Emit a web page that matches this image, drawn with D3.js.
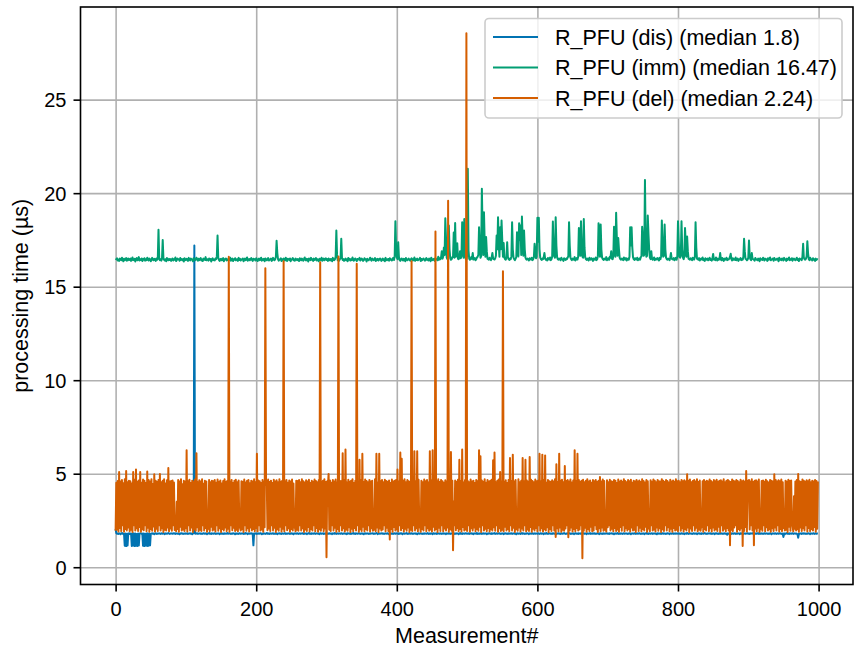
<!DOCTYPE html>
<html>
<head>
<meta charset="utf-8">
<script src="https://cdn.jsdelivr.net/npm/d3@7"></script>
<style>
  body { margin: 0; background: #fff; }
  svg { display: block; }
  text { font-family: "Liberation Sans", Arial, Helvetica, sans-serif; fill: #000; }
</style>
</head>
<body>
<svg id="chart" width="854" height="652"></svg>
<script>
// Series labels and colours (colour-blind palette)
const seriesNames = ["R_PFU (dis)", "R_PFU (imm)", "R_PFU (del)"];
const seriesColors = ["#0173B2", "#029E73", "#D55E00"];
const xTicks = [0, 200, 400, 600, 800, 1000];
const yTicks = [0, 5, 10, 15, 20, 25];
const xLabel = "Measurement#";
const yLabel = "processing time (µs)";

// Processing time per measurement, dis variant (µs)
const disTimes = [
  2.05,1.82,1.79,1.8,1.78,1.81,1.8,1.77,1.8,1.83,1.79,1.8,1.78,1.15,1.8,1.13,1.79,1.16,1.8,1.81,
  1.78,1.8,1.79,1.14,1.8,1.16,1.81,1.13,1.8,1.15,1.78,1.14,1.8,1.16,1.79,1.8,1.82,1.78,1.8,1.15,
  1.8,1.13,1.79,1.16,1.8,1.14,1.81,1.15,1.8,1.17,1.78,1.8,1.81,1.79,1.8,1.77,1.8,1.82,1.78,1.8,
  1.79,1.8,1.81,1.8,1.78,1.8,1.82,1.79,1.8,1.8,1.77,1.81,1.8,1.79,1.8,1.83,1.8,1.78,1.8,1.81,
  1.8,1.79,1.8,1.82,1.8,1.78,1.81,1.8,1.79,1.8,1.8,1.76,1.81,1.8,1.82,1.79,1.8,1.78,1.8,1.81,
  1.79,1.8,1.81,1.78,1.8,1.8,1.82,1.79,1.8,1.77,1.8,1.81,17.2,1.8,1.79,1.8,1.82,1.78,1.8,1.8,
  1.81,1.79,1.8,1.78,1.8,1.82,1.8,1.79,1.81,1.8,1.77,1.8,1.8,1.83,1.79,1.8,1.78,1.81,1.8,1.79,
  1.8,1.82,1.78,1.8,1.79,1.8,1.81,1.8,1.77,1.8,1.82,1.79,1.8,1.8,1.78,1.81,1.8,1.79,1.8,1.83,
  1.79,1.8,1.81,1.8,1.78,1.8,1.79,1.82,1.8,1.8,1.76,1.81,1.8,1.79,1.8,1.78,1.82,1.8,1.79,1.8,
  1.81,1.8,1.78,1.8,1.79,1.83,1.8,1.8,1.77,1.81,1.8,1.79,1.8,1.82,1.78,1.8,1.17,1.8,1.79,1.81,
  1.8,1.78,1.8,1.81,1.79,1.8,1.82,1.8,1.77,1.8,1.79,1.81,1.8,1.78,1.8,1.83,1.79,1.8,1.8,1.78,
  1.81,1.8,1.79,1.8,1.82,1.78,1.8,1.8,1.79,1.81,1.77,1.8,1.8,1.82,1.79,1.8,1.78,1.81,1.8,1.79,
  1.8,1.83,1.78,1.8,1.79,1.8,1.81,1.8,1.78,1.8,1.82,1.79,1.8,1.77,1.8,1.81,1.8,1.79,1.82,1.8,
  1.78,1.8,1.81,1.79,1.8,1.8,1.82,1.78,1.8,1.79,1.8,1.81,1.77,1.8,1.8,1.83,1.79,1.8,1.78,1.81,
  1.8,1.79,1.8,1.82,1.78,1.8,1.81,1.8,1.79,1.8,1.77,1.82,1.8,1.79,1.8,1.81,1.78,1.8,1.8,1.79,
  1.81,1.8,1.78,1.8,1.82,1.79,1.8,1.8,1.77,1.81,1.8,1.79,1.83,1.8,1.78,1.8,1.81,1.79,1.8,1.8,
  1.79,1.82,1.8,1.78,1.8,1.81,1.8,1.79,1.8,1.77,1.82,1.8,1.8,1.79,1.81,1.78,1.8,1.8,1.83,1.79,
  1.8,1.78,1.81,1.8,1.79,1.8,1.82,1.8,1.78,1.8,1.81,1.79,1.8,1.77,1.8,1.82,1.79,1.8,1.81,1.8,
  1.78,1.8,1.79,1.81,1.8,1.8,1.82,1.78,1.8,1.79,1.8,1.83,1.8,1.77,1.81,1.8,1.79,1.8,1.8,1.82,
  1.79,1.8,1.78,1.8,1.81,1.8,1.79,1.82,1.8,1.76,1.8,1.81,1.79,1.8,1.8,1.78,1.82,1.8,1.79,1.81,
  1.8,1.8,1.78,1.81,1.79,1.8,1.82,1.8,1.77,1.8,1.81,1.79,1.8,1.8,1.83,1.78,1.8,1.79,1.81,1.8,
  1.79,1.82,1.8,1.78,1.8,1.8,1.81,1.79,1.8,1.77,1.8,1.82,1.79,1.8,1.81,1.8,1.78,1.8,1.8,1.79,
  1.81,1.8,1.79,1.8,1.83,1.78,1.8,1.8,1.79,1.81,1.8,1.77,1.82,1.8,1.79,1.8,1.81,1.78,1.8,1.8,
  1.8,1.79,1.81,1.8,1.78,1.8,1.82,1.79,1.8,1.8,1.77,1.81,1.8,1.79,1.82,1.8,1.78,1.8,1.81,1.79,
  1.8,1.82,1.78,1.8,1.79,1.81,1.8,1.8,1.77,1.8,1.83,1.79,1.8,1.78,1.81,1.8,1.79,1.8,1.82,1.8,
  1.79,1.8,1.81,1.78,1.8,1.8,1.82,1.79,1.8,1.77,1.81,1.8,1.8,1.79,1.83,1.78,1.8,1.8,1.79,1.81,
  1.8,1.78,1.8,1.82,1.79,1.8,1.81,1.8,1.77,1.8,1.79,1.82,1.8,1.8,1.78,1.81,1.79,1.8,1.8,1.83,
  1.78,1.8,1.81,1.79,1.8,1.8,1.82,1.78,1.8,1.79,1.8,1.81,1.77,1.8,1.82,1.8,1.79,1.8,1.78,1.81,
  1.8,1.79,1.8,1.82,1.78,1.8,1.81,1.8,1.79,1.8,1.76,1.82,1.8,1.79,1.8,1.81,1.78,1.8,1.83,1.79,
  1.81,1.8,1.78,1.8,1.79,1.82,1.8,1.8,1.77,1.81,1.8,1.79,1.8,1.82,1.78,1.8,1.81,1.79,1.8,1.8,
  1.79,1.81,1.8,1.78,1.8,1.82,1.79,1.8,1.8,1.77,1.81,1.8,1.79,1.83,1.8,1.78,1.8,1.81,1.8,1.79,
  1.8,1.78,1.82,1.8,1.79,1.8,1.81,1.77,1.8,1.8,1.82,1.79,1.8,1.78,1.81,1.8,1.79,1.8,1.83,1.8,
  1.78,1.8,1.79,1.81,1.8,1.8,1.82,1.78,1.8,1.79,1.8,1.81,1.77,1.8,1.82,1.8,1.79,1.8,1.78,1.81,
  1.8,1.79,1.81,1.8,1.78,1.8,1.82,1.79,1.8,1.8,1.77,1.81,1.8,1.79,1.8,1.83,1.78,1.8,1.81,1.79,
  1.8,1.82,1.78,1.8,1.79,1.8,1.81,1.8,1.77,1.82,1.8,1.79,1.8,1.78,1.81,1.8,1.79,1.8,1.8,1.82,
  1.79,1.8,1.78,1.81,1.8,1.8,1.82,1.79,1.8,1.77,1.8,1.81,1.79,1.8,1.83,1.78,1.8,1.8,1.79,1.81,
  1.8,1.78,1.8,1.82,1.79,1.8,1.81,1.8,1.78,1.8,1.79,1.82,1.8,1.77,1.8,1.81,1.8,1.79,1.82,1.8,
  1.78,1.8,1.81,1.79,1.8,1.82,1.8,1.78,1.8,1.79,1.8,1.81,1.77,1.8,1.8,1.83,1.79,1.8,1.78,1.81,
  1.8,1.79,1.8,1.82,1.78,1.8,1.81,1.8,1.79,1.8,1.76,1.82,1.8,1.79,1.8,1.81,1.78,1.8,1.82,1.79,
  1.81,1.8,1.78,1.8,1.79,1.82,1.8,1.8,1.77,1.81,1.8,1.79,1.8,1.82,1.78,1.8,1.81,1.79,1.8,1.8,
  1.79,1.81,1.8,1.78,1.8,1.82,1.79,1.8,1.8,1.77,1.81,1.8,1.79,1.83,1.8,1.78,1.8,1.81,1.8,1.79,
  1.8,1.78,1.82,1.8,1.79,1.8,1.81,1.77,1.8,1.8,1.82,1.79,1.8,1.78,1.81,1.8,1.79,1.8,1.83,1.8,
  1.78,1.8,1.79,1.81,1.8,1.8,1.82,1.78,1.8,1.79,1.8,1.81,1.77,1.8,1.82,1.8,1.79,1.8,1.78,1.81,
  1.8,1.79,1.81,1.8,1.78,1.8,1.82,1.79,1.8,1.8,1.74,1.81,1.8,1.79,1.8,1.83,1.78,1.8,1.81,1.79,
  1.8,1.82,1.78,1.8,1.79,1.8,1.81,1.8,1.77,1.82,1.8,1.79,1.8,1.78,1.81,1.8,1.79,1.8,1.8,1.82,
  1.79,1.8,1.78,1.81,1.8,1.8,1.82,1.79,1.8,1.77,1.8,1.81,1.79,1.8,1.83,1.78,1.8,1.8,1.79,1.81,
  1.8,1.78,1.8,1.82,1.79,1.8,1.81,1.8,1.78,1.8,1.79,1.82,1.8,1.77,1.8,1.81,1.8,1.79,1.82,1.8,
  1.78,1.8,1.81,1.79,1.8,1.82,1.8,1.78,1.8,1.79,1.62,1.81,1.77,1.8,1.8,1.83,1.79,1.8,1.78,1.81,
  1.8,1.79,1.8,1.82,1.78,1.8,1.81,1.8,1.79,1.8,1.76,1.58,1.8,1.79,1.8,1.81,1.78,1.8,1.82,1.79,
  1.81,1.8,1.78,1.8,1.79,1.82,1.8,1.8,1.77,1.81,1.8,1.79,1.8,1.82,1.78,1.8,1.81,1.79,1.8,1.8
];

// Processing time per measurement, imm variant (µs)
const immTimes = [
  16.43,16.47,16.52,16.4,16.45,16.38,16.5,16.47,16.42,16.55,16.44,16.36,16.49,16.41,16.47,16.53,16.39,16.46,16.51,16.42,
  16.45,16.5,16.38,16.47,16.56,16.42,16.44,16.49,16.35,16.47,16.53,16.41,16.46,16.58,16.4,16.47,16.43,16.51,16.37,16.48,
  16.44,16.52,16.39,16.47,16.42,16.55,16.46,16.4,16.5,16.47,16.36,16.43,16.54,16.45,16.41,16.49,16.47,16.38,16.51,16.44,
  16.48,18.04,16.55,16.42,16.47,16.39,16.5,17.5,16.52,16.44,16.4,16.47,16.36,16.53,16.45,16.41,16.49,16.43,16.47,16.38,
  16.46,16.51,16.4,16.47,16.44,16.56,16.37,16.42,16.5,16.47,16.45,16.39,16.53,16.43,16.47,16.41,16.48,16.35,16.52,16.44,
  16.42,16.49,16.47,16.38,16.54,16.45,16.4,16.5,16.47,16.43,16.36,16.52,16.46,16.41,16.47,16.55,16.44,16.39,16.49,16.42,
  16.47,16.53,16.4,16.45,16.37,16.5,16.47,16.43,16.58,16.41,16.46,16.47,16.39,16.51,16.44,16.48,16.35,16.47,16.52,16.42,
  16.45,16.4,16.5,16.47,16.62,17.73,16.55,16.43,16.38,16.47,16.49,16.41,16.44,16.53,16.36,16.47,16.46,16.51,16.4,16.43,
  16.48,16.42,16.47,16.55,16.39,16.45,16.5,16.37,16.47,16.44,16.52,16.41,16.46,16.47,16.38,16.54,16.43,16.49,16.4,16.45,
  16.47,16.51,16.36,16.44,16.5,16.42,16.47,16.56,16.39,16.45,16.48,16.41,16.47,16.53,16.43,16.38,16.49,16.46,16.47,16.4,
  16.52,16.44,16.37,16.47,16.5,16.42,16.45,16.55,16.39,16.47,16.43,16.49,16.36,16.51,16.47,16.41,16.46,16.53,16.4,16.44,
  16.47,16.5,16.38,16.43,16.54,16.45,16.41,16.47,16.6,17.45,16.8,16.48,16.39,16.44,16.47,16.52,16.37,16.46,16.42,16.5,
  16.47,16.4,16.55,16.44,16.38,16.49,16.47,16.43,16.51,16.36,16.46,16.47,16.53,16.41,16.45,16.39,16.5,16.47,16.42,16.48,
  16.44,16.37,16.52,16.47,16.41,16.5,16.45,16.39,16.47,16.56,16.43,16.4,16.49,16.47,16.35,16.51,16.46,16.42,16.54,16.44,
  16.47,16.38,16.5,16.43,16.46,16.53,16.4,16.47,16.44,16.36,16.49,16.47,16.42,16.55,16.39,16.45,16.5,16.41,16.47,16.52,
  16.43,16.47,16.38,16.51,16.45,16.4,16.48,16.47,16.36,16.54,16.44,16.42,16.47,16.6,18.0,16.7,16.41,16.46,16.39,16.47,
  16.52,17.56,16.55,16.43,16.47,16.38,16.45,16.5,16.41,16.47,16.36,16.53,16.44,16.49,16.4,16.47,16.42,16.56,16.46,16.39,
  16.47,16.51,16.43,16.37,16.48,16.47,16.45,16.54,16.4,16.44,16.5,16.47,16.38,16.42,16.52,16.46,16.47,16.35,16.49,16.43,
  16.41,16.47,16.55,16.44,16.39,16.5,16.47,16.42,16.46,16.53,16.37,16.47,16.43,16.49,16.4,16.45,16.51,16.47,16.38,16.44,
  16.5,16.42,16.47,16.36,16.54,16.45,16.41,16.47,16.48,16.39,16.52,16.44,16.47,16.4,16.46,16.55,16.43,16.62,18.5,17.1,
  16.55,16.47,17.38,16.6,16.42,16.38,16.47,16.51,16.44,16.4,16.49,16.47,16.36,16.53,16.45,16.41,16.47,16.5,16.43,16.39,
  16.46,16.52,16.47,16.4,16.44,16.56,16.38,16.47,16.43,16.5,16.41,16.45,16.47,16.54,16.37,16.48,16.42,16.47,16.51,16.44,
  16.39,16.47,16.53,16.43,16.46,16.4,16.5,16.47,16.36,16.55,16.44,16.42,16.47,16.49,16.38,16.52,16.45,16.47,16.41,16.6,
  16.44,16.52,16.47,16.58,16.9,16.5,16.62,17.1,16.7,18.66,17.6,16.55,16.47,16.65,18.27,17.0,16.52,16.44,16.47,16.58,
  16.6,17.9,16.55,18.41,16.6,17.3,17.32,16.5,16.47,16.58,16.9,16.52,16.62,18.45,17.4,16.55,18.62,17.0,16.5,16.47,
  16.65,21.3,16.93,16.5,16.44,16.47,16.58,16.5,16.8,16.45,16.47,16.53,16.41,16.47,16.56,16.6,16.7,18.18,17.2,16.55,
  16.62,20.23,18.0,16.7,18.98,17.4,16.6,17.65,16.9,16.5,16.47,16.44,16.55,16.47,16.42,16.58,16.8,16.5,16.47,16.45,
  16.52,16.65,17.73,17.0,18.71,17.3,16.6,18.18,17.0,18.54,17.5,16.6,17.33,16.55,16.47,16.44,16.6,17.38,16.58,16.47,
  16.43,16.5,16.47,16.62,18.45,17.0,16.55,16.47,16.42,16.5,16.58,17.91,17.2,16.62,18.39,17.5,18.27,16.7,18.75,17.6,
  16.65,18.0,17.0,16.55,16.47,16.44,16.5,16.47,16.4,16.52,16.47,16.45,16.55,16.42,16.47,16.58,17.29,16.9,16.52,16.6,
  18.68,17.4,18.68,17.0,16.55,16.47,16.43,16.5,16.47,16.58,16.8,16.5,16.44,16.47,16.4,16.53,16.47,16.45,16.56,16.42,
  16.47,16.6,18.48,17.0,16.62,16.55,18.71,17.2,16.58,16.47,16.44,16.5,16.47,16.41,16.55,16.47,16.45,16.38,16.52,16.47,
  16.43,16.5,16.47,16.56,16.62,18.45,17.2,16.55,16.47,16.42,16.5,16.47,16.44,16.58,16.4,16.47,16.53,16.45,16.6,18.14,
  17.3,16.65,18.5,17.0,16.6,16.55,18.62,17.1,16.58,16.47,16.43,16.5,16.47,16.4,16.55,16.47,16.44,16.52,16.47,16.38,
  16.5,16.47,16.44,16.56,16.42,16.47,16.62,18.39,17.3,16.6,18.32,17.0,16.55,16.47,16.43,16.5,16.47,16.45,16.58,16.41,
  16.47,16.52,16.44,16.6,16.55,16.9,16.5,16.47,16.62,18.2,17.3,16.6,18.95,17.6,16.65,17.6,17.0,16.55,16.47,16.44,
  16.5,16.47,16.42,16.56,16.47,16.45,16.53,16.4,16.47,16.5,16.44,16.6,18.18,17.2,18.18,17.1,16.58,16.47,16.43,16.52,
  16.47,16.45,16.55,16.41,16.47,16.5,16.44,16.58,16.62,18.2,17.6,16.65,16.7,20.71,17.5,16.6,16.65,18.8,17.82,17.0,
  16.55,16.47,16.9,16.5,16.44,16.47,16.56,16.42,16.47,16.5,16.45,16.53,16.47,16.4,16.55,16.47,16.62,18.54,17.3,16.6,
  16.65,18.32,17.0,16.55,16.47,16.44,16.5,16.47,16.42,16.56,16.8,16.5,16.47,16.45,16.53,16.41,16.47,16.55,16.44,16.6,
  18.5,17.4,16.6,16.55,16.65,18.5,17.0,16.55,16.47,16.62,18.14,17.3,16.6,17.68,16.9,16.5,16.47,16.44,16.52,16.47,
  16.42,16.55,16.47,16.45,16.6,18.45,17.1,16.5,16.47,16.44,16.53,16.4,16.47,16.5,16.45,16.56,16.42,16.47,16.38,16.52,
  16.47,16.44,16.5,16.41,16.47,16.55,16.43,16.47,16.39,16.52,16.75,16.45,16.47,16.42,16.56,16.47,16.4,16.5,16.44,16.47,
  16.8,16.46,16.41,16.53,16.47,16.38,16.5,16.44,16.47,16.55,16.42,16.47,16.45,16.51,16.6,16.76,16.47,16.4,16.52,16.44,
  16.47,16.43,16.56,16.41,16.47,16.5,16.38,16.45,16.47,16.53,16.42,16.47,16.44,16.6,17.56,16.9,16.5,16.47,16.41,16.45,
  16.55,17.47,16.62,16.47,16.42,16.8,16.5,16.47,16.44,16.39,16.53,16.47,16.45,16.41,16.5,16.47,16.36,16.52,16.44,16.47,
  16.43,16.55,16.47,16.4,16.5,16.45,16.47,16.38,16.52,16.44,16.47,16.56,16.41,16.46,16.47,16.5,16.39,16.53,16.47,16.43,
  16.45,16.5,16.47,16.36,16.55,16.44,16.47,16.42,16.51,16.47,16.4,16.54,16.45,16.47,16.38,16.5,16.43,16.47,16.56,16.41,
  16.47,16.44,16.52,16.39,16.47,16.5,16.45,16.41,16.47,16.55,16.43,16.47,16.37,16.51,16.46,16.47,16.42,16.6,17.29,16.55,
  16.47,16.44,16.5,16.62,17.43,16.8,16.47,16.42,16.55,16.45,16.47,16.4,16.52,16.44,16.47,16.38,16.5,16.43,16.47,16.45
];

// Processing time per measurement, del variant (µs)
const delTimes = [
  1.95,4.52,2.02,4.61,1.91,5.09,2.1,4.58,1.93,4.66,2.24,4.49,1.9,4.7,2.05,5.14,1.97,4.55,2.12,4.63,
  1.92,4.6,2.0,4.47,1.89,5.09,2.24,4.68,1.96,5.22,2.08,4.57,1.94,4.64,2.15,5.09,1.9,4.52,2.03,4.69,
  1.98,4.62,2.24,4.5,1.93,5.12,2.11,4.66,1.9,4.59,2.04,4.71,1.95,4.45,2.18,4.97,1.91,4.63,2.06,4.56,
  1.94,4.67,2.24,4.99,1.97,4.54,2.09,4.62,1.89,4.7,2.01,4.48,1.96,4.65,2.13,5.3,1.92,4.58,2.07,4.61,
  1.95,4.64,2.24,4.53,1.99,2.1,1.93,3.5,2.05,4.66,1.9,4.59,2.16,4.7,1.97,4.44,2.02,4.62,1.94,4.57,
  2.08,6.25,1.91,4.6,2.24,4.68,1.96,4.51,2.12,4.63,1.89,4.57,2.03,4.69,1.95,6.1,2.14,4.55,1.92,4.65,
  2.0,4.58,1.94,4.7,2.24,4.46,1.97,4.62,2.1,4.59,1.9,2.2,2.05,4.67,1.93,4.54,2.17,4.63,1.96,4.6,
  2.02,4.66,1.91,4.52,2.24,4.69,1.95,4.57,2.09,4.64,1.88,4.48,2.04,4.61,1.97,4.7,2.13,4.56,1.93,4.63,
  2.06,16.6,1.9,4.59,2.24,4.67,1.98,4.5,2.11,4.62,1.94,4.68,2.01,4.55,1.92,4.64,2.15,2.1,1.96,4.6,
  2.03,4.57,1.89,4.69,2.24,4.53,1.95,4.62,2.08,4.66,1.91,4.49,2.12,4.63,1.97,4.58,2.05,4.7,1.93,4.55,
  2.1,6.07,1.92,4.64,2.24,4.6,1.96,4.51,2.02,4.67,1.9,4.58,2.14,15.99,4.4,4.62,1.98,4.69,2.07,4.56,
  1.94,4.63,2.24,4.5,1.97,4.68,2.11,4.59,1.89,4.65,2.03,4.54,1.95,4.7,2.16,4.57,1.91,4.62,2.06,16.36,
  1.93,4.6,2.24,4.67,1.98,4.52,2.09,4.64,1.9,4.58,2.04,4.69,1.96,4.47,2.13,2.15,1.92,4.63,2.01,4.61,
  1.95,4.66,2.24,4.55,1.97,4.7,2.08,4.6,1.89,4.53,2.02,4.65,1.94,4.58,2.15,4.68,1.91,4.5,2.05,4.62,
  1.96,4.57,2.24,4.69,1.92,4.61,2.1,4.54,1.9,4.66,2.03,16.31,1.95,4.59,2.12,4.63,1.93,4.7,2.07,4.56,
  0.53,4.6,4.35,4.99,2.0,4.64,1.94,4.52,2.24,4.67,1.97,4.58,2.11,4.69,1.9,4.55,2.05,16.61,1.92,4.62,
  2.24,4.6,1.96,6.1,2.08,4.66,1.91,6.3,2.02,4.53,1.95,4.68,2.14,4.57,1.89,4.63,2.06,4.7,1.93,4.5,
  2.1,4.62,1.97,16.22,2.24,4.59,1.9,5.75,2.03,4.65,1.94,6.07,2.16,4.56,1.92,4.69,2.04,4.61,1.96,4.54,
  2.24,4.67,1.91,4.58,2.09,4.63,1.95,2.18,2.01,4.7,1.93,6.07,2.13,4.52,1.89,6.07,2.07,4.6,1.97,4.66,
  2.02,4.55,2.24,4.68,1.92,4.61,2.11,4.57,1.94,4.64,1.48,4.5,2.05,4.69,1.9,4.59,2.15,4.62,1.96,4.67,
  2.03,5.22,1.93,4.58,2.24,6.13,1.98,5.8,2.1,4.63,1.91,4.7,2.06,4.54,1.95,4.66,2.12,4.6,1.89,4.57,
  2.01,16.36,1.94,4.64,2.24,6.2,1.97,4.59,2.08,6.2,1.92,4.68,2.14,2.2,1.9,4.62,2.04,4.55,1.96,4.69,
  2.24,4.6,1.93,4.66,2.09,4.53,1.95,6.2,2.02,4.64,1.91,6.25,2.16,4.58,1.97,17.95,2.05,4.61,1.89,4.7,
  2.11,4.56,1.94,4.67,2.24,4.6,1.92,4.52,2.07,4.65,1.96,4.58,2.13,19.6,1.9,4.69,2.03,6.16,1.95,4.62,
  0.91,3.5,2.24,4.64,1.98,4.57,2.1,4.68,1.93,5.75,2.05,4.6,1.91,6.29,2.15,4.53,1.96,4.66,2.02,28.55,
  1.94,4.61,2.24,4.55,1.9,4.69,2.08,4.58,1.97,4.63,2.12,4.5,1.92,4.67,2.04,4.6,1.95,6.25,2.17,5.93,
  1.89,4.64,2.24,4.57,1.96,4.7,2.06,4.52,1.93,4.66,2.1,4.59,1.91,4.62,2.03,4.68,1.97,5.72,2.14,6.13,
  1.95,4.55,2.24,4.63,1.9,4.69,2.09,5.09,1.94,4.6,2.01,15.83,1.92,4.57,2.16,4.65,1.96,4.51,2.05,4.67,
  1.93,5.84,2.24,4.6,1.97,6.02,2.11,4.58,1.89,4.66,2.04,2.1,1.95,4.7,2.13,4.54,1.91,4.62,2.07,5.84,
  1.96,4.59,2.24,5.75,1.92,4.64,2.02,4.57,1.94,5.89,2.15,4.68,1.9,4.61,2.06,4.55,1.97,4.69,2.1,4.6,
  1.93,4.63,2.24,6.07,1.95,4.58,2.08,6.02,1.91,4.66,2.03,5.98,1.96,4.52,2.14,4.67,1.89,4.6,2.05,4.57,
  1.94,4.65,2.24,4.59,1.97,4.7,1.62,5.5,2.09,4.56,1.92,6.07,2.12,4.62,1.9,4.68,2.01,4.54,1.95,5.41,
  2.07,4.61,2.24,4.66,1.6,4.58,1.96,4.69,2.13,4.53,1.91,4.64,2.04,6.25,1.93,4.6,2.1,6.07,1.97,4.67,
  2.02,4.57,2.24,4.63,0.48,4.68,1.95,4.55,2.11,4.62,1.9,4.7,2.05,4.59,1.94,4.64,2.16,4.52,1.92,4.66,
  1.96,4.6,2.24,4.67,2.03,4.56,1.89,4.63,2.08,4.83,1.93,4.58,2.12,4.69,1.95,4.61,2.0,2.2,1.91,4.65,
  2.14,4.54,2.24,4.68,1.97,4.6,2.06,4.57,1.92,4.66,2.1,4.62,1.94,4.5,2.02,4.69,1.9,4.59,2.15,4.64,
  1.95,4.57,2.24,4.7,1.93,4.61,2.09,4.55,1.97,4.66,2.04,4.6,1.91,4.68,2.13,4.52,1.96,4.63,2.01,4.58,
  1.89,4.67,2.24,4.59,1.94,4.64,2.11,4.56,1.92,4.7,2.05,4.61,1.96,4.53,2.16,4.66,1.9,4.6,2.07,2.15,
  1.93,4.65,2.24,4.57,1.97,4.69,2.02,4.62,1.91,4.55,2.12,4.67,1.95,4.6,2.08,4.58,1.89,4.71,2.03,4.63,
  1.94,4.56,2.24,4.66,1.96,4.61,2.14,4.53,1.92,4.68,2.06,4.59,1.9,4.64,2.1,4.57,1.97,4.7,2.01,4.6,
  1.93,4.62,2.24,4.55,1.95,4.67,2.09,4.6,1.91,4.65,2.04,4.58,1.96,4.97,2.13,4.63,1.89,4.69,2.07,4.54,
  1.94,4.61,2.24,4.66,1.97,4.59,2.11,4.7,1.92,4.56,2.02,4.64,1.95,2.18,2.15,4.6,1.9,4.67,2.05,4.57,
  1.96,4.63,2.24,4.58,1.93,4.69,2.08,4.61,1.91,4.55,2.12,4.66,1.97,4.6,2.03,4.68,1.94,4.57,2.16,4.62,
  1.89,4.65,2.24,4.59,1.95,4.7,2.06,4.54,1.92,4.63,2.1,4.67,1.96,4.6,1.17,4.56,2.01,4.69,1.93,4.62,
  2.13,4.58,2.24,4.66,1.9,4.61,2.04,4.55,1.97,4.68,2.09,4.6,1.14,4.64,1.94,4.57,2.15,5.14,1.91,4.63,
  4.4,4.67,2.02,4.59,2.24,4.7,1.96,4.56,1.17,4.62,2.07,4.65,1.93,4.58,2.11,4.69,1.89,2.2,2.05,4.61,
  1.95,4.64,2.24,4.57,1.92,4.68,2.14,4.6,1.97,4.53,2.03,4.66,1.9,4.62,2.08,4.59,1.94,4.97,2.12,4.67,
  1.96,4.58,2.24,4.65,1.91,4.6,2.05,4.69,1.93,4.55,2.1,2.24,1.97,4.63,2.01,4.57,1.89,4.68,2.16,4.61,
  1.95,4.64,2.24,2.2,1.92,3.8,2.06,4.59,1.96,4.66,2.03,4.99,1.9,4.6,2.13,4.56,1.94,4.69,2.08,4.62,
  1.97,4.57,2.24,4.65,1.91,4.6,2.1,4.68,1.93,4.54,2.04,4.63,1.96,4.59,2.15,4.67,1.9,4.61,2.06,4.58
];

const seriesValues = [disTimes, immTimes, delTimes];

// ---- layout ----
const svg = d3.select("#chart");
const plot = { left: 80.5, right: 853, top: 7, bottom: 584.5 };
const TICK_FONT = 20;
const LABEL_FONT = 21.5;

const series = seriesNames.map((name, i) => ({
  name,
  color: seriesColors[i],
  values: seriesValues[i]
}));

// x: measurement index with 5% margin on both sides
const n = disTimes.length;
const xMargin = (n - 1) * 0.05;
const x = d3.scaleLinear()
  .domain([-xMargin, n - 1 + xMargin])
  .range([plot.left, plot.right]);

// y: data extent with 5% margin
const [lo, hi] = d3.extent(seriesValues.flat());
const yMargin = (hi - lo) * 0.05;
const y = d3.scaleLinear()
  .domain([lo - yMargin, hi + yMargin])
  .range([plot.bottom, plot.top]);

// ---- grid ----
const grid = svg.append("g").attr("class", "grid");
grid.append("g")
  .attr("transform", `translate(0,${plot.bottom})`)
  .call(d3.axisBottom(x).tickValues(xTicks).tickSize(-(plot.bottom - plot.top)).tickFormat(""))
  .call(g => g.select(".domain").remove());
grid.append("g")
  .attr("transform", `translate(${plot.left},0)`)
  .call(d3.axisLeft(y).tickValues(yTicks).tickSize(-(plot.right - plot.left)).tickFormat(""))
  .call(g => g.select(".domain").remove());
grid.selectAll("line").attr("stroke", "#b0b0b0").attr("stroke-width", 1.6);

// ---- data lines ----
svg.append("clipPath").attr("id", "plot-clip")
  .append("rect")
  .attr("x", plot.left).attr("y", plot.top)
  .attr("width", plot.right - plot.left).attr("height", plot.bottom - plot.top);

const line = d3.line()
  .x((d, i) => x(i))
  .y(d => y(d));

svg.append("g").attr("clip-path", "url(#plot-clip)")
  .selectAll("path")
  .data(series)
  .join("path")
  .attr("fill", "none")
  .attr("stroke", d => d.color)
  .attr("stroke-width", 2)
  .attr("stroke-linejoin", "round")
  .attr("d", d => line(d.values));

// ---- frame ----
svg.append("rect")
  .attr("x", plot.left).attr("y", plot.top)
  .attr("width", plot.right - plot.left).attr("height", plot.bottom - plot.top)
  .attr("fill", "none").attr("stroke", "#000").attr("stroke-width", 1.6);

// ---- axes ----
const xAxis = svg.append("g")
  .attr("transform", `translate(0,${plot.bottom})`)
  .call(d3.axisBottom(x).tickValues(xTicks).tickFormat(d3.format("d")).tickSize(7).tickSizeOuter(0));
xAxis.select(".domain").remove();
xAxis.selectAll("line").attr("stroke", "#000").attr("stroke-width", 1.6);
xAxis.selectAll("text")
  .attr("y", 31).attr("dy", null)
  .style("font-size", TICK_FONT + "px")
  .style("font-family", '"Liberation Sans", Arial, Helvetica, sans-serif')
  .attr("fill", "#000");

const yAxis = svg.append("g")
  .attr("transform", `translate(${plot.left},0)`)
  .call(d3.axisLeft(y).tickValues(yTicks).tickFormat(d3.format("d")).tickSize(7).tickSizeOuter(0));
yAxis.select(".domain").remove();
yAxis.selectAll("line").attr("stroke", "#000").attr("stroke-width", 1.6);
yAxis.selectAll("text")
  .attr("x", -14).attr("dy", "0.36em")
  .style("font-size", TICK_FONT + "px")
  .style("font-family", '"Liberation Sans", Arial, Helvetica, sans-serif')
  .attr("fill", "#000");

svg.append("text")
  .attr("x", (plot.left + plot.right) / 2)
  .attr("y", 643)
  .attr("text-anchor", "middle")
  .style("font-size", LABEL_FONT + "px")
  .text(xLabel);

svg.append("text")
  .attr("transform", `translate(28,${(plot.top + plot.bottom) / 2}) rotate(-90)`)
  .attr("text-anchor", "middle")
  .style("font-size", LABEL_FONT + "px")
  .text(yLabel);

// ---- legend ----
const fmtMedian = v => String(+v.toFixed(2));
const legend = svg.append("g");
legend.append("rect")
  .attr("x", 485).attr("y", 18.5)
  .attr("width", 357).attr("height", 99.5)
  .attr("rx", 4)
  .attr("fill", "#fff").attr("fill-opacity", 0.8)
  .attr("stroke", "#cccccc").attr("stroke-width", 1.6);

const rows = legend.selectAll("g.row")
  .data(series)
  .join("g")
  .attr("class", "row")
  .attr("transform", (d, i) => `translate(0,${37 + i * 30.5})`);
rows.append("line")
  .attr("x1", 493).attr("x2", 538)
  .attr("stroke", d => d.color).attr("stroke-width", 2);
rows.append("text")
  .attr("x", 555).attr("dy", "0.36em")
  .style("font-size", LABEL_FONT + "px")
  .text(d => `${d.name} (median ${fmtMedian(d3.median(d.values))})`);
</script>
</body>
</html>
